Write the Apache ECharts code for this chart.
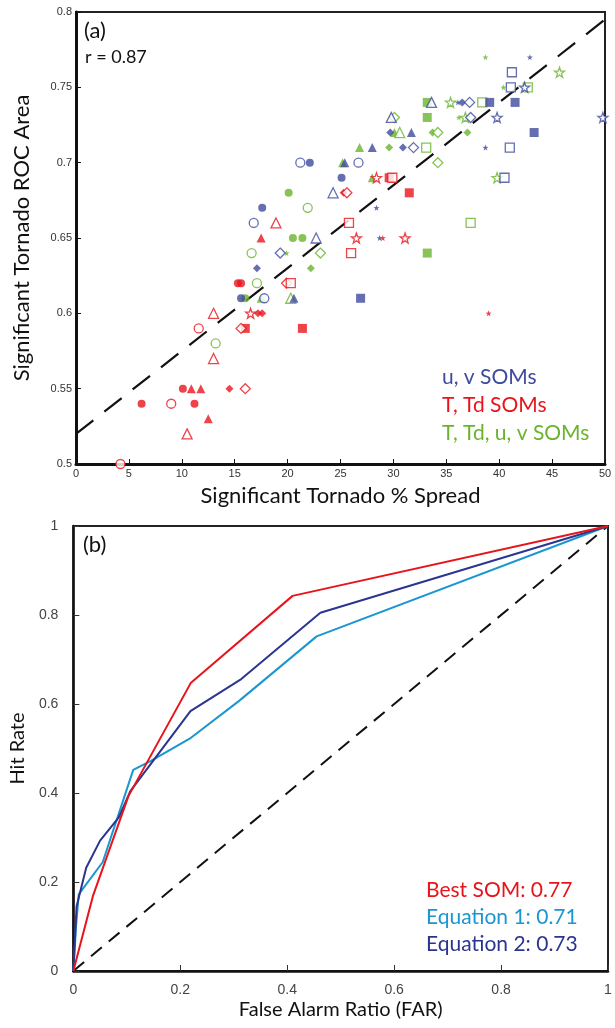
<!DOCTYPE html>
<html>
<head>
<meta charset="utf-8">
<script src="https://cdn.jsdelivr.net/npm/echarts@6/dist/echarts.min.js"></script>
<style>
  html, body { margin: 0; padding: 0; background: #fff; }
  #chart { width: 615px; height: 1028px; }
</style>
</head>
<body>
<div id="chart"></div>
<script>
// panel (a): [spread %, ROC area, marker]
// marker codes: o/O circle, t/T triangle, d/D diamond, s/S square, k/K star (lower = filled, upper = open)
const uvPoints = [
  [17.6,0.67,'o'],[16.8,0.66,'O'],[17.1,0.63,'d'],[15.6,0.61,'o'],[17.8,0.61,'O'],
  [21.2,0.70,'O'],[22.1,0.70,'o'],[25.4,0.70,'t'],[26.7,0.70,'O'],[25.1,0.69,'o'],
  [24.3,0.68,'T'],[28.4,0.67,'k'],[22.7,0.65,'T'],[28.7,0.65,'k'],[19.3,0.64,'D'],
  [20.6,0.61,'t'],[26.9,0.61,'s'],[33.6,0.74,'T'],[29.8,0.73,'T'],[29.7,0.72,'d'],
  [31.7,0.72,'t'],[28.0,0.71,'t'],[30.9,0.71,'d'],[31.9,0.71,'D'],[42.9,0.77,'k'],
  [41.2,0.76,'S'],[41.1,0.75,'S'],[42.4,0.75,'K'],[36.1,0.74,'k'],[36.5,0.74,'d'],
  [37.2,0.74,'D'],[39.1,0.74,'s'],[41.5,0.74,'s'],[37.3,0.73,'D'],[39.8,0.73,'K'],
  [49.8,0.73,'K'],[43.3,0.72,'s'],[38.7,0.71,'k'],[41.0,0.71,'S'],[40.5,0.69,'S']
];
const tdPoints = [
  [17.5,0.65,'t'],[15.3,0.62,'o'],[15.6,0.62,'o'],[13.0,0.60,'T'],[16.5,0.60,'K'],
  [17.2,0.60,'d'],[17.6,0.60,'d'],[11.6,0.59,'O'],[16.0,0.59,'s'],[15.6,0.59,'D'],
  [13.0,0.57,'T'],[10.1,0.55,'o'],[10.9,0.55,'t'],[11.8,0.55,'t'],[14.5,0.55,'d'],
  [16.0,0.55,'D'],[6.2,0.54,'o'],[9.0,0.54,'O'],[11.2,0.54,'o'],[12.5,0.53,'t'],
  [10.5,0.52,'T'],[4.2,0.50,'O'],[28.4,0.69,'K'],[29.6,0.69,'s'],[29.9,0.69,'S'],
  [25.3,0.68,'d'],[25.6,0.68,'D'],[31.5,0.68,'s'],[18.9,0.66,'T'],[25.8,0.66,'S'],
  [26.5,0.65,'K'],[29.0,0.65,'k'],[31.1,0.65,'K'],[26.0,0.64,'S'],[19.9,0.62,'D'],
  [20.3,0.62,'S'],[21.4,0.59,'s'],[39.0,0.60,'k']
];
const allPoints = [
  [16.6,0.64,'O'],[17.1,0.62,'O'],[16.0,0.61,'o'],[17.5,0.61,'t'],[13.2,0.58,'O'],
  [33.2,0.74,'s'],[30.1,0.73,'D'],[33.2,0.73,'s'],[30.1,0.72,'t'],[30.6,0.72,'T'],
  [33.7,0.72,'d'],[34.2,0.72,'D'],[26.8,0.71,'t'],[29.6,0.71,'d'],[33.1,0.71,'S'],
  [25.2,0.70,'t'],[34.2,0.70,'D'],[28.0,0.69,'t'],[20.1,0.68,'o'],[21.9,0.67,'O'],
  [20.5,0.65,'o'],[21.4,0.65,'o'],[19.9,0.64,'k'],[23.1,0.64,'D'],[33.2,0.64,'s'],
  [22.2,0.63,'d'],[20.3,0.61,'T'],[38.7,0.77,'k'],[45.7,0.76,'K'],[40.4,0.75,'k'],
  [42.7,0.75,'S'],[35.4,0.74,'K'],[38.4,0.74,'S'],[36.2,0.73,'k'],[36.8,0.73,'K'],
  [37.0,0.72,'d'],[39.8,0.69,'K'],[37.3,0.66,'S']
];
const fitLine = [[0, 0.52], [50, 0.795]];

// panel (b): [FAR, hit rate]
const bestSom = [[0,0],[0.037,0.17],[0.103,0.393],[0.22,0.648],[0.41,0.843],[1,1]];
const equation1 = [[0,0],[0.005,0.1],[0.01,0.172],[0.055,0.245],[0.112,0.452],[0.145,0.472],
  [0.22,0.524],[0.31,0.607],[0.455,0.752],[1,1]];
const equation2 = [[0,0],[0.006,0.145],[0.024,0.232],[0.05,0.293],[0.085,0.345],[0.107,0.405],
  [0.219,0.584],[0.314,0.656],[0.462,0.805],[1,1]];
const noSkill = [[0,0],[1,1]];

const BLUE = '#3d4a9e', RED = '#e8141b', GREEN = '#6ab42d';
const STAR = 'path://M0,-10L2.35,-3.24L9.51,-3.09L3.8,1.24L5.88,8.09L0,4L-5.88,8.09L-3.8,1.24L-9.51,-3.09L-2.35,-3.24Z';
const DIAMOND = 'path://M0,-1L1,0L0,1L-1,0Z';
const SHAPES = {
  o: { symbol: 'circle', size: 8, open: false },
  O: { symbol: 'circle', size: 9, open: true },
  t: { symbol: 'triangle', size: 9, open: false },
  T: { symbol: 'triangle', size: 10, open: true },
  d: { symbol: DIAMOND, size: 8, open: false },
  D: { symbol: DIAMOND, size: 10, open: true },
  s: { symbol: 'rect', size: 9, open: false },
  S: { symbol: 'rect', size: 9, open: true },
  k: { symbol: STAR, size: 6, open: false },
  K: { symbol: STAR, size: 10, open: true }
};

function markers(pts, color) {
  return pts.map(p => {
    const s = SHAPES[p[2]];
    return {
      value: [p[0], p[1]],
      symbol: s.symbol,
      symbolSize: s.size,
      itemStyle: s.open
        ? { color: '#fff', borderColor: color, borderWidth: 1.3 }
        : { color: color, borderWidth: 0 }
    };
  });
}

const TITLE_FONT = 'Lato';
const TICK_FONT = 'Liberation Sans';

const chart = echarts.init(document.getElementById('chart'), null, { renderer: 'canvas' });

const option = {
  animation: false,
  backgroundColor: '#fff',
  grid: [
    { left: 76, top: 12, width: 529, height: 452, show: true, borderColor: '#222', borderWidth: 2 },
    { left: 73, top: 526, width: 535, height: 445, show: true, borderColor: '#222', borderWidth: 2 }
  ],
  xAxis: [
    {
      gridIndex: 0, type: 'value', min: 0, max: 50, interval: 5,
      name: 'Significant Tornado % Spread', nameLocation: 'middle', nameGap: 21,
      nameTextStyle: { fontFamily: TITLE_FONT, fontSize: 22, color: '#111' },
      axisLine: { lineStyle: { color: '#111', width: 3 } },
      axisTick: { inside: true, length: 5, lineStyle: { color: '#111' } },
      axisLabel: { fontFamily: TICK_FONT, fontSize: 11, color: '#333', margin: 4 },
      splitLine: { show: false }
    },
    {
      gridIndex: 1, type: 'value', min: 0, max: 1, interval: 0.2,
      name: 'False Alarm Ratio (FAR)', nameLocation: 'middle', nameGap: 29,
      nameTextStyle: { fontFamily: TITLE_FONT, fontSize: 20, color: '#111' },
      axisLine: { lineStyle: { color: '#111', width: 2.5 } },
      axisTick: { inside: true, length: 6, lineStyle: { color: '#333' } },
      axisLabel: { fontFamily: TICK_FONT, fontSize: 14, color: '#444', margin: 12 },
      splitLine: { show: false }
    }
  ],
  yAxis: [
    {
      gridIndex: 0, type: 'value', min: 0.5, max: 0.8, interval: 0.05,
      name: 'Significant Tornado ROC Area', nameLocation: 'middle', nameGap: 43,
      nameTextStyle: { fontFamily: TITLE_FONT, fontSize: 22, color: '#111' },
      axisLine: { lineStyle: { color: '#111', width: 3 } },
      axisTick: { inside: true, length: 5, lineStyle: { color: '#111' } },
      axisLabel: { fontFamily: TICK_FONT, fontSize: 11, color: '#333', margin: 4 },
      splitLine: { show: false }
    },
    {
      gridIndex: 1, type: 'value', min: 0, max: 1, interval: 0.2,
      name: 'Hit Rate', nameLocation: 'middle', nameGap: 40,
      nameTextStyle: { fontFamily: TITLE_FONT, fontSize: 20, color: '#111' },
      axisLine: { lineStyle: { color: '#111', width: 2.5 } },
      axisTick: { inside: true, length: 6, lineStyle: { color: '#333' } },
      axisLabel: { fontFamily: TICK_FONT, fontSize: 14, color: '#444', margin: 15 },
      splitLine: { show: false }
    }
  ],
  graphic: [
    { type: 'text', left: 84, top: 20, style: { text: '(a)', font: '22px Lato', fill: '#111' } },
    { type: 'text', left: 85, top: 48, style: { text: 'r = 0.87', font: '18px Lato', fill: '#111' } },
    { type: 'text', left: 442, top: 367, style: { text: 'u, v SOMs', font: '21px Lato', fill: BLUE } },
    { type: 'text', left: 442, top: 395, style: { text: 'T, Td SOMs', font: '21px Lato', fill: RED } },
    { type: 'text', left: 442, top: 423, style: { text: 'T, Td, u, v SOMs', font: '21px Lato', fill: GREEN } },
    { type: 'text', left: 83, top: 534, style: { text: '(b)', font: '22px Lato', fill: '#111' } },
    { type: 'text', left: 426, top: 880, style: { text: 'Best SOM: 0.77', font: '21px Lato', fill: '#e8141b' } },
    { type: 'text', left: 426, top: 907, style: { text: 'Equation 1: 0.71', font: '21px Lato', fill: '#1a96d0' } },
    { type: 'text', left: 426, top: 934, style: { text: 'Equation 2: 0.73', font: '21px Lato', fill: '#2b3590' } }
  ],
  series: [
    {
      type: 'line', xAxisIndex: 0, yAxisIndex: 0, data: fitLine, symbol: 'none', silent: true,
      lineStyle: { color: '#111', width: 2.2, type: [22, 14] }, z: 1
    },
    { type: 'scatter', xAxisIndex: 0, yAxisIndex: 0, data: markers(allPoints, GREEN), silent: true, z: 2 },
    { type: 'scatter', xAxisIndex: 0, yAxisIndex: 0, data: markers(tdPoints, RED), silent: true, z: 3 },
    { type: 'scatter', xAxisIndex: 0, yAxisIndex: 0, data: markers(uvPoints, BLUE), silent: true, z: 4 },
    {
      type: 'line', xAxisIndex: 1, yAxisIndex: 1, data: noSkill, symbol: 'none', silent: true,
      lineStyle: { color: '#111', width: 2, type: [14, 9] }
    },
    {
      type: 'line', xAxisIndex: 1, yAxisIndex: 1, data: equation1, symbol: 'none', silent: true,
      lineStyle: { color: '#1a96d0', width: 2 }
    },
    {
      type: 'line', xAxisIndex: 1, yAxisIndex: 1, data: equation2, symbol: 'none', silent: true,
      lineStyle: { color: '#2b3590', width: 2 }
    },
    {
      type: 'line', xAxisIndex: 1, yAxisIndex: 1, data: bestSom, symbol: 'none', silent: true,
      lineStyle: { color: '#e8141b', width: 2 }
    }
  ]
};

chart.setOption(option);
</script>
</body>
</html>
